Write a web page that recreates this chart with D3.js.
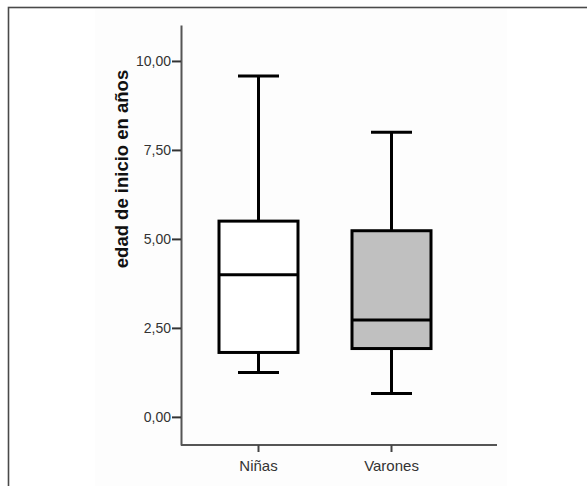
<!DOCTYPE html>
<html>
<head>
<meta charset="utf-8">
<script src="https://cdn.jsdelivr.net/npm/d3@7"></script>
<style>
  body { margin: 0; background: #fff; }
  svg { display: block; font-family: Arial, "Liberation Sans", sans-serif; }
</style>
</head>
<body>
<svg id="boxViz"></svg>
<script>
var width = 587;
var height = 486;

// datos
var grupos = ["Niñas", "Varones"];
var minimos = [1.25, 0.66];
var cuartil1 = [1.81, 1.92];
var medianas = [3.99, 2.72];
var cuartil3 = [5.50, 5.23];
var maximos = [9.58, 8.00];
var rellenos = ["#ffffff", "#c0c0c0"];
var yTicks = [0, 2.5, 5, 7.5, 10];
var yTitulo = "edad de inicio en años";

var svg = d3.select("#boxViz")
    .attr("width", width)
    .attr("height", height);

// marco exterior
svg.append("rect")
    .attr("x", 8.5).attr("y", 7.5)
    .attr("width", 600).attr("height", 500)
    .attr("fill", "#fff")
    .attr("stroke", "#4a4a4a")
    .attr("stroke-width", 1.6);

// panel interior
svg.append("rect")
    .attr("x", 95).attr("y", 9)
    .attr("width", 412).attr("height", 477)
    .attr("fill", "#fdfdfd");

var x0 = 181, x1 = 497;
var yTop = 25, yBot = 445;

var x_scale = d3.scaleBand()
    .domain(grupos)
    .range([x0 + 11, x1 - 39])
    .padding(0);

var y_scale = d3.scaleLinear()
    .domain([-0.79, 11.01])
    .range([yBot, yTop]);

// eje Y
var y_axis = d3.axisLeft(y_scale)
    .tickValues(yTicks)
    .tickSize(9)
    .tickSizeOuter(0)
    .tickFormat(function (d) { return d3.format(".2f")(d).replace(".", ","); });

var gy = svg.append("g")
    .attr("transform", "translate(" + x0 + ",0)")
    .call(y_axis);
gy.select(".domain").attr("stroke", "#555").attr("stroke-width", 2);
gy.selectAll(".tick line").attr("stroke", "#333").attr("stroke-width", 2);
gy.selectAll(".tick text")
    .attr("fill", "#333")
    .attr("x", -10)
    .style("font-size", "14px");

// eje X
var x_axis = d3.axisBottom(x_scale)
    .tickSize(7)
    .tickSizeOuter(0);

var gx = svg.append("g")
    .attr("transform", "translate(0," + yBot + ")")
    .call(x_axis);
gx.select(".domain").attr("d", "M" + x0 + ",0H" + x1)
    .attr("stroke", "#555").attr("stroke-width", 2);
gx.selectAll(".tick line").attr("stroke", "#444").attr("stroke-width", 2);
gx.selectAll(".tick text")
    .attr("fill", "#333")
    .attr("y", 15)
    .style("font-size", "15px");

// título del eje Y
svg.append("text")
    .text(yTitulo)
    .attr("transform", "translate(128,169) rotate(-90)")
    .attr("text-anchor", "middle")
    .style("font-size", "18.5px")
    .style("font-weight", "bold")
    .attr("fill", "#111");

// cajas
var cajaW = 79, capW = 41;
var datos = grupos.map(function (g, i) {
    return { g: g, min: minimos[i], q1: cuartil1[i], med: medianas[i], q3: cuartil3[i], max: maximos[i], fill: rellenos[i] };
});

var cajas = svg.selectAll(".caja")
    .data(datos)
    .enter().append("g")
    .attr("class", "caja")
    .attr("transform", function (d) { return "translate(" + (x_scale(d.g) + x_scale.bandwidth() / 2) + ",0)"; });

cajas.append("line")
    .attr("x1", 0).attr("x2", 0)
    .attr("y1", function (d) { return y_scale(d.max); })
    .attr("y2", function (d) { return y_scale(d.q3); })
    .attr("stroke", "#000").attr("stroke-width", 3);
cajas.append("line")
    .attr("x1", 0).attr("x2", 0)
    .attr("y1", function (d) { return y_scale(d.q1); })
    .attr("y2", function (d) { return y_scale(d.min); })
    .attr("stroke", "#000").attr("stroke-width", 3);
cajas.append("line")
    .attr("x1", -capW / 2).attr("x2", capW / 2)
    .attr("y1", function (d) { return y_scale(d.max); })
    .attr("y2", function (d) { return y_scale(d.max); })
    .attr("stroke", "#000").attr("stroke-width", 3);
cajas.append("line")
    .attr("x1", -capW / 2).attr("x2", capW / 2)
    .attr("y1", function (d) { return y_scale(d.min); })
    .attr("y2", function (d) { return y_scale(d.min); })
    .attr("stroke", "#000").attr("stroke-width", 3);
cajas.append("rect")
    .attr("x", -cajaW / 2)
    .attr("width", cajaW)
    .attr("y", function (d) { return y_scale(d.q3); })
    .attr("height", function (d) { return y_scale(d.q1) - y_scale(d.q3); })
    .attr("fill", function (d) { return d.fill; })
    .attr("stroke", "#000").attr("stroke-width", 3);
cajas.append("line")
    .attr("x1", -cajaW / 2).attr("x2", cajaW / 2)
    .attr("y1", function (d) { return y_scale(d.med); })
    .attr("y2", function (d) { return y_scale(d.med); })
    .attr("stroke", "#000").attr("stroke-width", 3);
</script>
</body>
</html>
